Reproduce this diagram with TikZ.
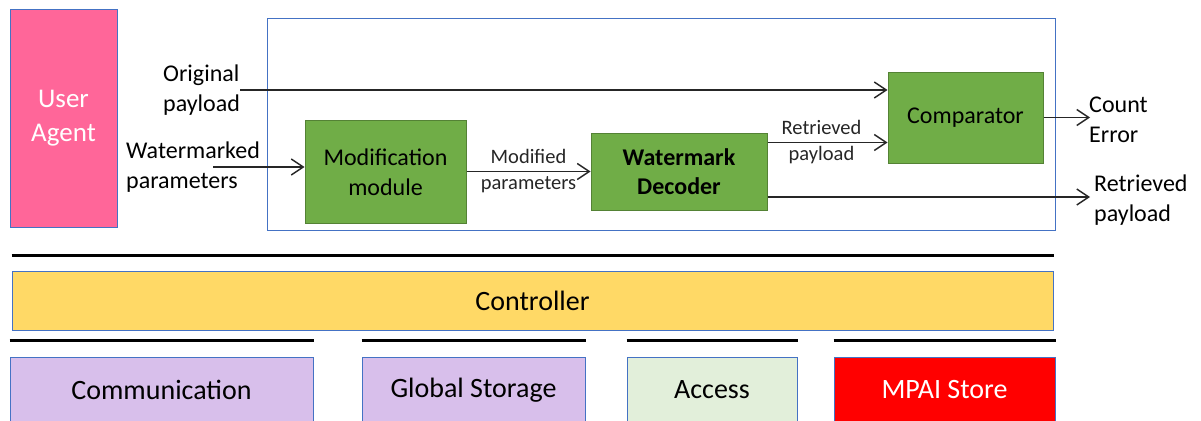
\documentclass[tikz,border=0pt]{standalone}
\usepackage{fontspec}
\setmainfont{Carlito}
\usetikzlibrary{arrows.meta}
\definecolor{uapink}{RGB}{255,102,153}
\definecolor{edgeblue}{RGB}{68,114,196}
\definecolor{boxgreen}{RGB}{112,173,71}
\definecolor{greenedge}{RGB}{84,130,53}
\definecolor{ctrlyellow}{RGB}{255,217,102}
\definecolor{lilac}{RGB}{216,191,235}
\definecolor{palegreen}{RGB}{226,239,218}

\begin{document}
\begin{tikzpicture}[x=1pt,y=-1pt,
    box/.style={draw=edgeblue,line width=1pt,inner sep=0pt,align=center},
    gbox/.style={draw=greenedge,fill=boxgreen,line width=1pt,inner sep=0pt,
      align=center,font=\fontsize{24}{30}\selectfont},
    lbl/.style={inner sep=0pt,align=left,anchor=west,font=\fontsize{24}{30}\selectfont},
    tinylbl/.style={inner sep=0pt,align=center,font=\fontsize{20.5}{26}\selectfont},
    big/.style={font=\fontsize{28}{34}\selectfont},
    flow/.style={-{Straight Barb[length=12pt,width=16pt,line width=1.4pt]},line width=1.4pt,black!85},
    sepline/.style={line width=3.2pt,black}]
        \clip (0,0) rectangle (1201,420) ;
        % upper part
        \node[box,fill=uapink,text=white,font=\fontsize{27}{34}\selectfont,
          minimum width=107pt,minimum height=217pt] (ua) at (63.5,118.5) {User\\Agent} ;
        \node[box,minimum width=788pt,minimum height=211pt] (frame) at (661,124.5) {} ;
        \node[gbox,minimum width=161pt,minimum height=103pt] (mod) at (385.5,172) {Modification\\module} ;
        \node[gbox,minimum width=176pt,minimum height=77pt,
          font=\fontsize{24}{29}\selectfont\bfseries] (dec) at (679,171.5) {Watermark\\Decoder} ;
        \node[gbox,minimum width=155pt,minimum height=91pt] (cmp) at (965.5,117.5) {Comparator} ;
        % inputs
        \node[lbl] (orig) at (163,90) {Original\\payload} ;
        \draw[flow] (orig.east) -- (orig.east -| cmp.west) ;
        \node[lbl] (wm) at (126,167) {Watermarked\\parameters} ;
        \coordinate (wmin) at (213,167) ;
        \draw[flow] (wmin) -- (wmin -| mod.west) ;
        % inner flow
        \draw[flow] (mod.east |- dec.west) -- (dec.west)
          node[tinylbl,midway] (modlbl) {Modified\\parameters} ;
        \draw[flow] ([yshift=-10pt]dec.north east) -- ([yshift=-10pt]dec.north east -| cmp.west)
          node[tinylbl,midway,xshift=-6pt] (retlbl) {Retrieved\\payload} ;
        % outputs
        \coordinate (cnt) at (1090,117.5) ;
        \draw[flow] (cmp.east) -- (cnt) ;
        \node[lbl] (cntlbl) at (1089,120) {Count\\Error} ;
        \coordinate (rpout) at (1090,197) ;
        \draw[flow] (rpout -| dec.east) -- (rpout) ;
        \node[lbl] (rplbl) at (1094,200) {Retrieved\\payload} ;
        % lower part
        \node[box,fill=ctrlyellow,big,minimum width=1041pt,minimum height=59pt] (ctrl) at (532.5,300.5) {Controller} ;
        \draw[sepline] ([yshift=15pt]ctrl.north west) -- ([yshift=15pt]ctrl.north east) ;
        \node[box,fill=lilac,big,minimum width=303pt,minimum height=66pt] (com) at (161.5,390) {Communication} ;
        \node[box,fill=lilac,big,minimum width=223pt,minimum height=66pt] (gs) at (473.5,390) {Global Storage} ;
        \node[box,fill=palegreen,big,minimum width=170pt,minimum height=66pt] (acc) at (712,390) {Access} ;
        \node[box,fill=red,text=white,big,minimum width=221pt,minimum height=66pt] (mpai) at (944.5,390) {MPAI Store} ;
        \foreach \b in {com,gs,acc,mpai}
          \draw[sepline] ([yshift=16pt]\b.north west) -- ([yshift=16pt]\b.north east) ;
      \end{tikzpicture}
\end{document}
